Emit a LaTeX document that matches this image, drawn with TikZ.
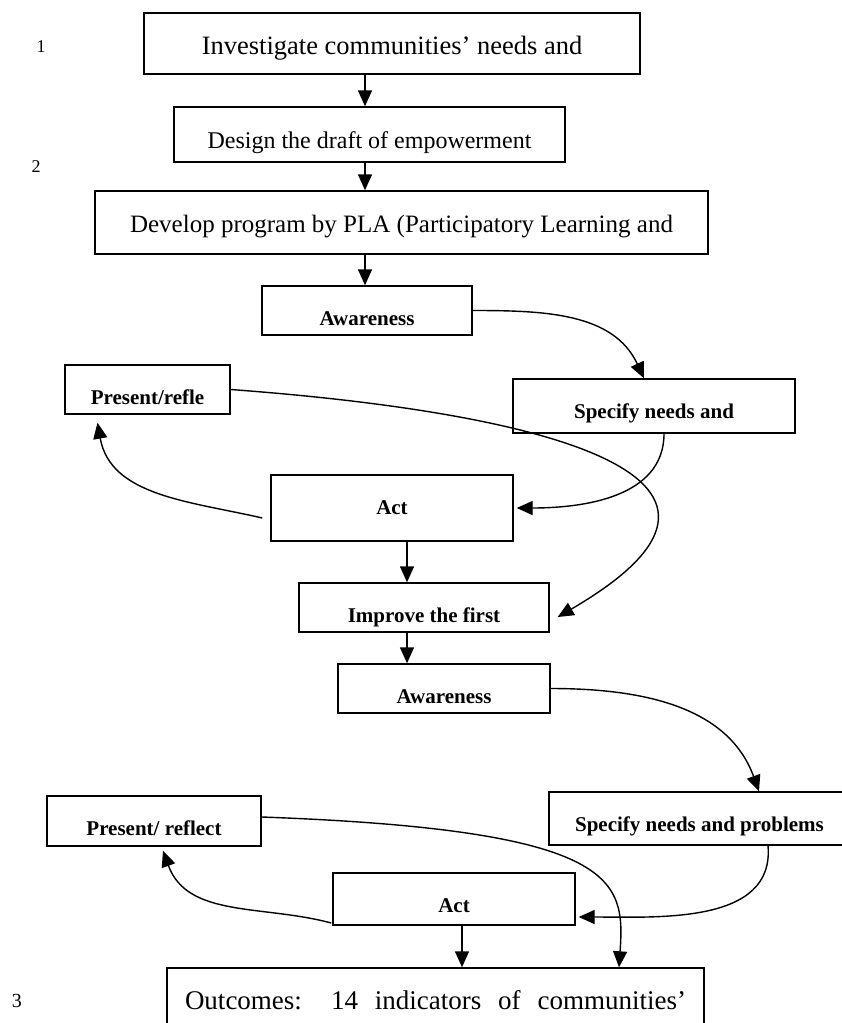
\documentclass[tikz,border=0pt]{standalone}
\usepackage{fontspec}
\setmainfont{Liberation Serif}
\usetikzlibrary{arrows.meta}

\begin{document}
\begin{tikzpicture}[x=1pt, y=-1pt, line width=1.4pt, >={Triangle[length=16pt,width=14pt]},
    box/.style={draw, inner sep=0pt},
    stage/.style={box, text height=39pt, font=\fontsize{21}{24}\selectfont\bfseries},
    num/.style={anchor=base, font=\fontsize{18}{20}\selectfont}]
    \useasboundingbox (0,0) rectangle (842,1023);
    \clip (0,0) rectangle (842,1023);

    % step numbers
    \node [num] (n1) at (41,52) {1};
    \node [num] (n2) at (36,172) {2};
    \node [num, font=\fontsize{20}{24}\selectfont] (n3) at (17,1007) {3};

    % main boxes
    \node [box, minimum width=496pt, text height=41pt, text depth=20pt, font=\fontsize{26.5}{30}\selectfont] (inv) at (392,43.5) {Investigate communities' needs and};
    \node [box, minimum width=391pt, text height=41pt, text depth=14pt, font=\fontsize{24}{28}\selectfont] (design) at (369.5,134.5) {Design the draft of empowerment};
    \node [box, minimum width=613pt, text height=41pt, text depth=22pt, font=\fontsize{25}{29}\selectfont] (develop) at (401.5,222.5) {Develop program by PLA (Participatory Learning and};

    % first cycle
    \node [stage, minimum width=210pt, text depth=10pt] (aware1) at (367,310.5) {Awareness};
    \node [stage, minimum width=282pt, text depth=15pt] (spec1) at (654,406) {Specify needs and};
    \node [stage, minimum width=165pt, text depth=10pt] (pres1) at (147.5,389.5) {Present/refle};
    \node [stage, minimum width=242pt, text depth=27pt] (act1) at (392,508) {Act};
    \node [stage, minimum width=250pt, text depth=10pt] (impr) at (424,607.5) {Improve the first};

    % second cycle
    \node [stage, minimum width=212pt, text depth=10pt] (aware2) at (444,688.5) {Awareness};
    \node [stage, minimum width=301pt, text depth=14pt] (spec2) at (699.5,818.5) {Specify needs and problems};
    \node [stage, minimum width=214pt, text depth=11pt] (pres2) at (154,821) {Present/ reflect};
    \node [stage, minimum width=242pt, text depth=13pt] (act2) at (454,899) {Act};

    \node [box, minimum width=537pt, text height=41pt, text depth=40pt, font=\fontsize{27}{31}\selectfont] (outc) at (435.5,1008.5) {\makebox[501pt][s]{Outcomes: 14 indicators of communities'}};

    \coordinate (spineA) at (365,0);
    \coordinate (spineB) at (407,0);
    \coordinate (spineC) at (462,0);

    \path[->] (inv.south -| spineA) edge (design.north -| spineA);
    \path[->] (design.south -| spineA) edge (develop.north -| spineA);
    \path[->] (develop.south -| spineA) edge (aware1.north -| spineA);

    \path[->] (aware1.east) edge [out=0, in=115] ([xshift=-10pt]spec1.north);
    \path[->] ([xshift=10pt]spec1.south) edge [out=-90, in=0] ([xshift=3pt]act1.east);
    \path[->] ([xshift=-8pt,yshift=-10pt]act1.west) edge [out=167, in=-80] ([xshift=-50pt,yshift=-8pt]pres1.south);
    \draw[->] (pres1.east) .. controls (560,414) and (793,480) .. ([xshift=8pt,yshift=-9.5pt]impr.east);
    \path[->] (act1.south -| spineB) edge (impr.north -| spineB);
    \path[->] (impr.south -| spineB) edge (aware2.north -| spineB);

    \path[->] (aware2.east) edge [out=0, in=110] ([xshift=59.5pt]spec2.north);
    \path[->] ([xshift=68.5pt]spec2.south) edge [out=-85, in=0] ([xshift=3pt,yshift=-18pt]act2.east);
    \path[->] ([xshift=-1pt,yshift=-24pt]act2.west) edge [out=165, in=-70] ([xshift=9pt,yshift=-4pt]pres2.south);
    \draw[->] ([yshift=4pt]pres2.east) .. controls (620,830) and (625,880) .. ([xshift=183.5pt]outc.north);
    \path[->] (act2.south -| spineC) edge (outc.north -| spineC);
\end{tikzpicture}
\end{document}
